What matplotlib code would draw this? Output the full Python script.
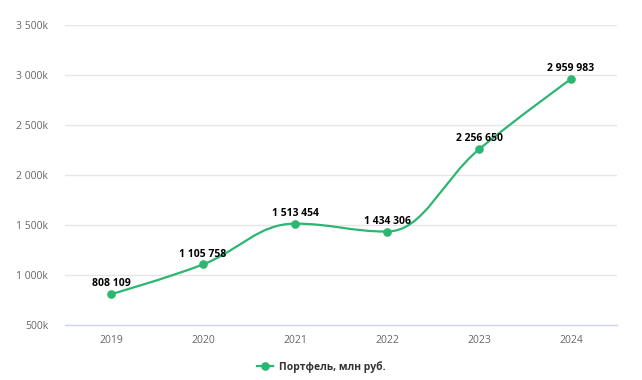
import matplotlib
matplotlib.use("Agg")
import matplotlib.pyplot as plt
from matplotlib.path import Path
from matplotlib.patches import PathPatch
from matplotlib.lines import Line2D

years = ["2019", "2020", "2021", "2022", "2023", "2024"]
values = [808109, 1105758, 1513454, 1434306, 2256650, 2959983]
labels = ["808 109", "1 105 758", "1 513 454", "1 434 306", "2 256 650", "2 959 983"]
yticks = [500000, 1000000, 1500000, 2000000, 2500000, 3000000, 3500000]
ytick_labels = ["500k", "1 000k", "1 500k", "2 000k", "2 500k", "3 000k", "3 500k"]
series_name = "Портфель, млн руб."

GREEN = "#2db672"
plt.rcParams['font.family'] = ['Open Sans', 'DejaVu Sans']

fig = plt.figure(figsize=(6.42, 3.80), dpi=100)
ax = fig.add_axes([65/642, 1-325/380, (617-65)/642, 300/380])

xs = list(range(len(values)))
ax.set_xlim(-0.5, len(values)-0.5)
ax.set_ylim(500000, 3500000)

# Highcharts-like spline control points (in pixel-proportional space)
sx = 92.0          # px per category
sy = 100/500000    # px per unit
px = [x*sx for x in xs]
py = [v*sy for v in values]
smoothing = 1.5
denom = smoothing + 1
n = len(px)
lc = [(px[i], py[i]) for i in range(n)]
rc = [(px[i], py[i]) for i in range(n)]
for i in range(1, n-1):
    lx = (smoothing*px[i] + px[i-1]) / denom
    ly = (smoothing*py[i] + py[i-1]) / denom
    rx = (smoothing*px[i] + px[i+1]) / denom
    ry = (smoothing*py[i] + py[i+1]) / denom
    if rx != lx:
        corr = ((ry - ly) * (rx - px[i])) / (rx - lx) + py[i] - ry
        ly += corr
        ry += corr
    if ly > max(py[i-1], py[i]):
        ly = max(py[i-1], py[i]); ry = 2*py[i] - ly
    elif ly < min(py[i-1], py[i]):
        ly = min(py[i-1], py[i]); ry = 2*py[i] - ly
    if ry > max(py[i+1], py[i]):
        ry = max(py[i+1], py[i]); ly = 2*py[i] - ry
    elif ry < min(py[i+1], py[i]):
        ry = min(py[i+1], py[i]); ly = 2*py[i] - ry
    lc[i] = (lx, ly); rc[i] = (rx, ry)

verts = [(xs[0], values[0])]
codes = [Path.MOVETO]
for i in range(1, n):
    verts += [(rc[i-1][0]/sx, rc[i-1][1]/sy), (lc[i][0]/sx, lc[i][1]/sy), (xs[i], values[i])]
    codes += [Path.CURVE4]*3
ax.add_patch(PathPatch(Path(verts, codes), facecolor='none', edgecolor=GREEN, lw=1.6, zorder=3))
ax.plot(xs, values, 'o', color=GREEN, ms=5.2, zorder=4)

for x, v, t in zip(xs, values, labels):
    ax.annotate(t, (x, v), xytext=(0, 3.5), textcoords='offset points', ha='center', va='bottom',
                fontsize=7.5, fontweight='bold', color='black', zorder=5)

ax.set_yticks(yticks)
ax.set_yticklabels(ytick_labels)
ax.set_xticks(xs)
ax.set_xticklabels(years)
ax.tick_params(axis='both', length=0, labelsize=7.5, colors='#666666')
ax.tick_params(axis='y', pad=12)
ax.tick_params(axis='x', pad=7)
ax.grid(axis='y', color='#e6e6e6', lw=1)
ax.set_axisbelow(True)
for s in ['top', 'right', 'left']:
    ax.spines[s].set_visible(False)
ax.spines['bottom'].set_color('#ccd6eb')
ax.spines['bottom'].set_linewidth(1)

handle = Line2D([0], [0], color=GREEN, lw=1.6, marker='o', ms=5.2)
fig.legend([handle], [series_name], loc='center', bbox_to_anchor=(0.5, 1-367/380),
           frameon=False, prop={'size': 7.5, 'weight': 'bold'}, handlelength=1.6, handletextpad=0.5,
           labelcolor='#333333')

fig.savefig("out.png", dpi=100)
